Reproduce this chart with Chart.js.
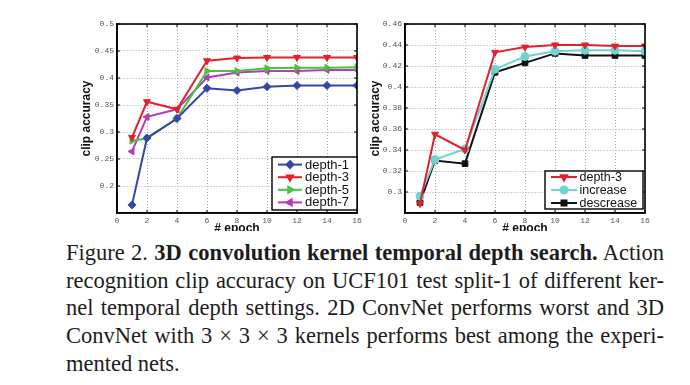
<!DOCTYPE html>
<html>
<head>
<meta charset="utf-8">
<script src="https://cdn.jsdelivr.net/npm/chart.js@4.4.1/dist/chart.umd.min.js"></script>
<style>
  body { margin: 0; background: #fff; width: 690px; height: 385px; overflow: hidden; position: relative; }
  .wrap { position: absolute; top: 0; height: 231px; overflow: hidden; }
  #caption { position: absolute; left: 66px; top: 239px; width: 598px; font-family: "Liberation Serif", "Times New Roman", serif; font-size: 22.5px; line-height: 27.7px; color: #1c1c1c; }
  #caption div { white-space: nowrap; }
</style>
</head>
<body>
<div class="wrap" style="left:0;width:365px"><canvas id="leftChart" width="365" height="236"></canvas></div>
<div class="wrap" style="left:345px;width:345px"><canvas id="rightChart" width="345" height="236"></canvas></div>
<div id="caption">
  <div><span class="j">Figure 2. <b>3D convolution kernel temporal depth search.</b> Action</span></div>
  <div><span class="j">recognition clip accuracy on UCF101 test split-1 of different ker-</span></div>
  <div><span class="j">nel temporal depth settings. 2D ConvNet performs worst and 3D</span></div>
  <div><span class="j">ConvNet with 3 × 3 × 3 kernels performs best among the experi-</span></div>
  <div><span>mented nets.</span></div>
</div>
<script>
const epochs = [1, 2, 4, 6, 8, 10, 12, 14, 16];
const epochTicks = [0, 2, 4, 6, 8, 10, 12, 14, 16];

// left panel: temporal depth 1/3/5/7
const depth1 = [0.165, 0.289, 0.325, 0.381, 0.377, 0.384, 0.386, 0.386, 0.386];
const depth3 = [0.290, 0.356, 0.342, 0.432, 0.437, 0.438, 0.438, 0.438, 0.438];
const depth5 = [0.284, 0.288, 0.325, 0.413, 0.413, 0.418, 0.419, 0.419, 0.420];
const depth7 = [0.264, 0.328, 0.342, 0.401, 0.410, 0.413, 0.413, 0.415, 0.415];
const leftYTicks = [0.2, 0.25, 0.3, 0.35, 0.4, 0.45, 0.5];

// right panel: constant vs increasing / decreasing depth
const depth3b = [0.289, 0.355, 0.340, 0.433, 0.438, 0.440, 0.440, 0.439, 0.439];
const increase = [0.296, 0.331, 0.341, 0.417, 0.429, 0.434, 0.435, 0.435, 0.434];
const descrease = [0.290, 0.330, 0.327, 0.414, 0.423, 0.432, 0.430, 0.430, 0.430];
const rightYTicks = [0.3, 0.32, 0.34, 0.36, 0.38, 0.4, 0.42, 0.44, 0.46];

const tickFont = { family: '"Liberation Mono", "DejaVu Sans Mono", monospace', size: 8 };
const titleFont = { family: '"Liberation Sans", Arial, sans-serif', size: 12, weight: 'bold' };

function series(label, values, color, style, rot) {
  return {
    label: label,
    data: epochs.map((x, i) => ({ x: x, y: values[i] })),
    borderColor: color,
    backgroundColor: color,
    borderWidth: 2,
    pointStyle: style,
    pointRotation: rot || 0,
    pointRadius: 4,
    pointBorderWidth: 1,
    tension: 0
  };
}

// black box around the plot with small inward ticks (matlab look)
const frame = {
  id: 'frame',
  afterDraw(chart) {
    const { ctx, chartArea: a, scales } = chart;
    ctx.save();
    ctx.strokeStyle = '#000';
    ctx.lineWidth = 1;
    scales.x.ticks.forEach(t => {
      const px = scales.x.getPixelForValue(t.value);
      ctx.beginPath();
      ctx.moveTo(px, a.bottom); ctx.lineTo(px, a.bottom - 3);
      ctx.moveTo(px, a.top); ctx.lineTo(px, a.top + 3);
      ctx.stroke();
    });
    scales.y.ticks.forEach(t => {
      const py = scales.y.getPixelForValue(t.value);
      ctx.beginPath();
      ctx.moveTo(a.left, py); ctx.lineTo(a.left + 3, py);
      ctx.moveTo(a.right, py); ctx.lineTo(a.right - 3, py);
      ctx.stroke();
    });
    ctx.lineWidth = 1.6;
    ctx.strokeRect(a.left, a.top, a.right - a.left, a.bottom - a.top);
    ctx.restore();
  }
};

// boxed legend sitting inside the plot, bottom right
const boxLegend = {
  id: 'boxLegend',
  afterDraw(chart, args, opts) {
    const { ctx, chartArea: a } = chart;
    const sets = chart.data.datasets;
    const x0 = a.right - opts.right - opts.width;
    const y0 = a.bottom - opts.bottom - opts.height;
    ctx.save();
    ctx.fillStyle = '#fff';
    ctx.fillRect(x0, y0, opts.width, opts.height);
    ctx.strokeStyle = '#000';
    ctx.lineWidth = 1.4;
    ctx.strokeRect(x0, y0, opts.width, opts.height);
    const first = y0 + (opts.height - (sets.length - 1) * opts.spacing) / 2;
    sets.forEach((ds, i) => {
      const y = first + i * opts.spacing;
      ctx.strokeStyle = ds.borderColor;
      ctx.fillStyle = ds.backgroundColor;
      ctx.lineWidth = 2;
      ctx.beginPath();
      ctx.moveTo(x0 + opts.lineFrom, y);
      ctx.lineTo(x0 + opts.lineTo, y);
      ctx.stroke();
      Chart.helpers.drawPoint(ctx, { pointStyle: ds.pointStyle, rotation: ds.pointRotation, radius: 3.5, borderWidth: 1 },
        x0 + (opts.lineFrom + opts.lineTo) / 2, y);
      ctx.fillStyle = '#111';
      ctx.font = opts.fontSize + 'px "Liberation Sans", Arial, sans-serif';
      ctx.textBaseline = 'middle';
      ctx.fillText(ds.label, x0 + opts.textX, y + 0.5);
    });
    ctx.restore();
  }
};

function makeChart(id, datasets, yMin, yMax, yTicks, pad, yWidth, legendOpts) {
  return new Chart(document.getElementById(id), {
    type: 'line',
    data: { datasets: datasets },
    options: {
      responsive: false,
      animation: false,
      layout: { padding: pad },
      plugins: {
        legend: { display: false },
        tooltip: { enabled: false },
        boxLegend: legendOpts
      },
      scales: {
        x: {
          type: 'linear',
          min: 0,
          max: 16,
          afterBuildTicks: s => { s.ticks = epochTicks.map(v => ({ value: v })); },
          afterFit: s => { s.height = 23; },
          ticks: { font: tickFont, color: '#555', padding: 3, maxRotation: 0, callback: v => String(v) },
          grid: { color: '#a8a8a8', lineWidth: 1, tickLength: 0 },
          border: { display: true, color: '#000', width: 1.6, dash: [1, 2] },
          title: { display: true, text: '# epoch', font: titleFont, color: '#111', padding: 0 }
        },
        y: {
          min: yMin,
          max: yMax,
          afterBuildTicks: s => { s.ticks = yTicks.map(v => ({ value: v })); },
          afterFit: s => { s.width = yWidth; },
          ticks: { font: tickFont, color: '#555', padding: 3, callback: v => String(v) },
          grid: { color: '#a8a8a8', lineWidth: 1, tickLength: 0 },
          border: { display: true, color: '#000', width: 1.6, dash: [1, 2] },
          title: { display: true, text: 'clip accuracy', font: titleFont, color: '#111', padding: 0 }
        }
      }
    },
    plugins: [frame, boxLegend]
  });
}

makeChart('leftChart', [
  series('depth-1', depth1, '#3446a6', 'rectRot', 0),
  series('depth-3', depth3, '#e3212d', 'triangle', 180),
  series('depth-5', depth5, '#47c43c', 'triangle', 90),
  series('depth-7', depth7, '#b33fb3', 'triangle', 270)
], 0.15, 0.5, leftYTicks, { left: 79, right: 8, top: 24, bottom: 0 }, 38,
  { width: 85, height: 53, right: 0, bottom: 3, spacing: 12.6, lineFrom: 6, lineTo: 30, textX: 33, fontSize: 13 });

makeChart('rightChart', [
  series('depth-3', depth3b, '#e3212d', 'triangle', 180),
  series('increase', increase, '#6ed3d3', 'circle', 0),
  series('descrease', descrease, '#111111', 'rect', 0)
], 0.28, 0.46, rightYTicks, { left: 23, right: 45, top: 24, bottom: 0 }, 37,
  { width: 98, height: 38, right: 2, bottom: 4, spacing: 13, lineFrom: 6, lineTo: 32, textX: 34.5, fontSize: 12.5 });

// stretch each caption line to the column width, like the justified paper text
function justifyCaption() {
  document.querySelectorAll('#caption .j').forEach(span => {
    span.style.wordSpacing = '0px';
    const w = span.getBoundingClientRect().width;
    const gaps = span.textContent.trim().split(/\s+/).length - 1;
    if (gaps > 0) span.style.wordSpacing = ((598 - w) / gaps) + 'px';
  });
}
justifyCaption();
if (document.fonts) document.fonts.ready.then(justifyCaption);
</script>
</body>
</html>
